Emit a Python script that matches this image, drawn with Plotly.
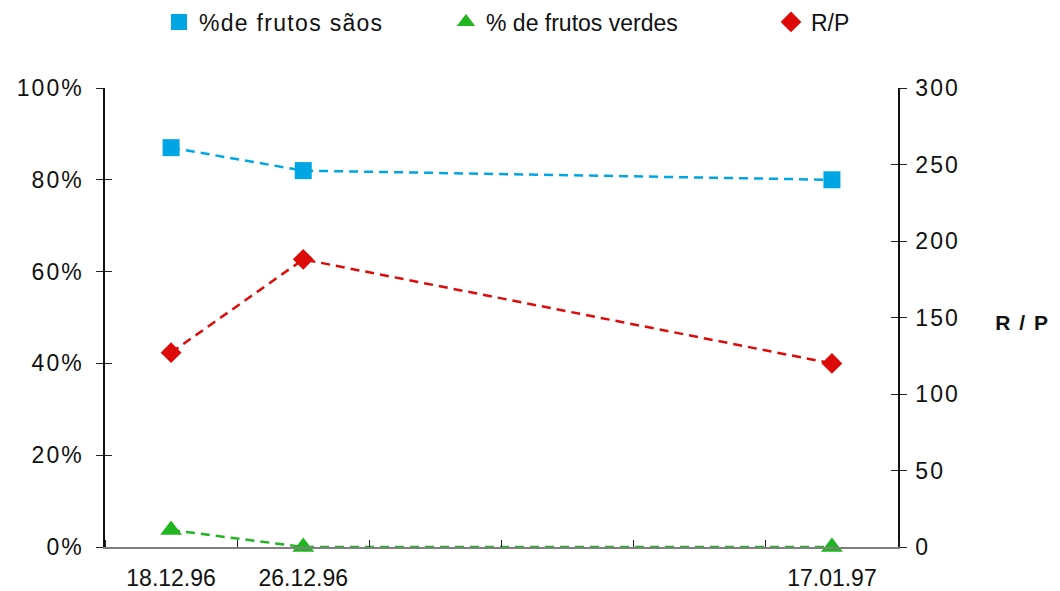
import plotly.graph_objects as go

# category slots (6 equal slots, labels only on some)
x_pos = [0, 1, 5]
x_labels = ["18.12.96", "26.12.96", "17.01.97"]
slot_edges = [-0.5, 0.5, 1.5, 2.5, 3.5, 4.5, 5.5]

pct_saos = [0.87, 0.82, 0.80]
pct_verdes = [0.037, 0.0, 0.0]
rp = [127, 188, 120]

names = ["%de frutos sãos", "% de frutos verdes", "R/P"]

BLUE = "#00A6E4"
GREEN = "#21B521"
RED = "#DD0A0A"
FONT = "Liberation Sans"
DASH = "9px,6px"

fig = go.Figure()
fig.add_trace(go.Scatter(
    x=x_pos, y=pct_saos, name=names[0], mode="lines+markers", showlegend=False,
    line=dict(color=BLUE, width=2.5, dash=DASH),
    marker=dict(symbol="square", size=17, color=BLUE), cliponaxis=False))
fig.add_trace(go.Scatter(
    x=x_pos, y=pct_verdes, name=names[1], mode="lines+markers", showlegend=False,
    line=dict(color=GREEN, width=2.5, dash=DASH),
    marker=dict(symbol="triangle-up", size=19, color=GREEN), cliponaxis=False))
fig.add_trace(go.Scatter(
    x=x_pos, y=rp, name=names[2], mode="lines+markers", yaxis="y2", showlegend=False,
    line=dict(color=RED, width=2.5, dash=DASH),
    marker=dict(symbol="diamond", size=16, color=RED), cliponaxis=False))

# legend-only entries (marker only, like the reference legend)
fig.add_trace(go.Scatter(x=[None], y=[None], name=names[0], mode="markers",
                         marker=dict(symbol="square", size=17, color=BLUE), legend="legend"))
fig.add_trace(go.Scatter(x=[None], y=[None], name=names[1], mode="markers",
                         marker=dict(symbol="triangle-up", size=19, color=GREEN), legend="legend2"))
fig.add_trace(go.Scatter(x=[None], y=[None], name=names[2], mode="markers",
                         marker=dict(symbol="diamond", size=16, color=RED), legend="legend3"))

# overlay axes for crossing ticks
fig.add_trace(go.Scatter(x=[None], y=[None], yaxis="y3", showlegend=False, hoverinfo="skip"))
fig.add_trace(go.Scatter(x=[None], y=[None], yaxis="y4", showlegend=False, hoverinfo="skip"))

ytickfont = dict(family=FONT, size=23, color="#111111")
xtickfont = dict(family=FONT, size=23, color="#111111")
legfont = dict(family=FONT, size=23, color="#111111")

def leg(x):
    return dict(orientation="h", x=x, xanchor="left", xref="container",
                y=1 - 22 / 591, yanchor="middle", yref="container",
                font=legfont, bgcolor="rgba(0,0,0,0)", itemwidth=30)

fig.update_layout(
    width=1060, height=591,
    margin=dict(l=105, r=162, t=88, b=44, autoexpand=False),
    paper_bgcolor="white", plot_bgcolor="white",
    font=dict(family=FONT, size=23, color="#111111"),
    xaxis=dict(range=[-0.5, 5.5], tickvals=x_pos, ticktext=x_labels, automargin=False,
               ticks="", showline=True, linecolor="#808080", linewidth=1.5,
               showgrid=False, zeroline=False, tickfont=xtickfont,
               ticklabelstandoff=10,
               minor=dict(tickvals=slot_edges, ticks="inside", ticklen=7,
                          tickcolor="#222222", tickwidth=1)),
    yaxis=dict(range=[0, 1], dtick=0.2, tickformat=".0%", ticks="outside", automargin=False,
               ticklen=7, tickcolor="#222222", showline=True, linecolor="#111111",
               linewidth=1.5, showgrid=False, zeroline=False, tickfont=ytickfont,
               ticklabelstandoff=8),
    yaxis3=dict(range=[0, 1], dtick=0.2, overlaying="y", side="left", ticks="inside",
                ticklen=7, tickcolor="#222222", showticklabels=False, automargin=False,
                showline=False, showgrid=False, zeroline=False),
    yaxis2=dict(range=[0, 300], dtick=50, overlaying="y", side="right", automargin=False,
                ticks="outside", ticklen=7, tickcolor="#222222", showline=True,
                linecolor="#111111", linewidth=1.5, showgrid=False, zeroline=False,
                tickfont=ytickfont, ticklabelstandoff=4),
    yaxis4=dict(range=[0, 300], dtick=50, overlaying="y", side="right",
                ticks="inside", ticklen=7, tickcolor="#222222", automargin=False,
                showticklabels=False, showline=False, showgrid=False, zeroline=False),
    legend=leg(159 / 1060),
    legend2=leg(446 / 1060),
    legend3=leg(771 / 1060),
    annotations=[dict(text="<b>R / P</b>", xref="paper", yref="paper",
                      x=(1022 - 105) / 793, y=(547 - 322) / 459,
                      xanchor="center", yanchor="middle",
                      showarrow=False, font=dict(family=FONT, size=21, color="#111111"))],
)

post = """
var gd = document.getElementById('{plot_id}');
var st = document.createElement('style');
st.textContent = 'html, body {margin:0; padding:0;} .ytick text, .y2tick text {letter-spacing:2px;} text.legendtext {letter-spacing:1.3px;} .annotation-text {letter-spacing:1.5px;}';
document.head.appendChild(st);
try {
  Plotly.relayout(gd, {'legend.font.size': 23.01, 'legend2.font.size': 23.01, 'legend3.font.size': 23.01});
} catch (e) {}
"""
fig.write_html("out.html", post_script=post, config={"displayModeBar": False})
